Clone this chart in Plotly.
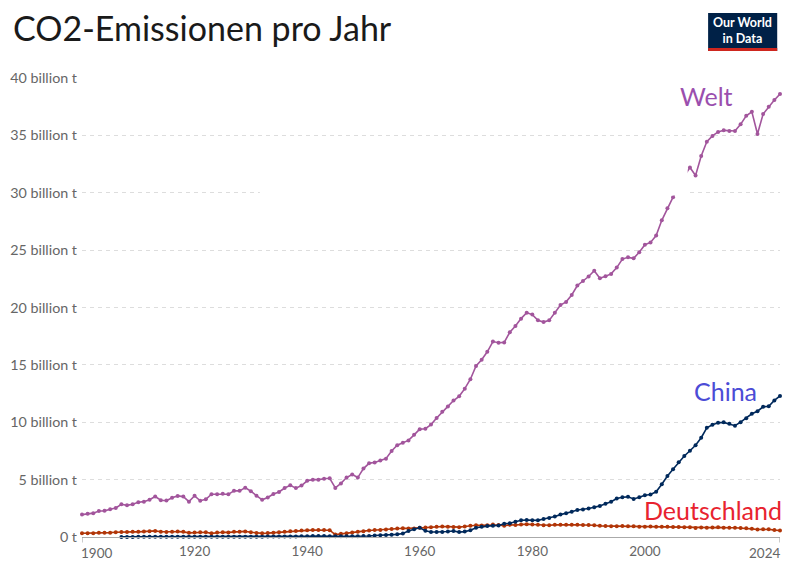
import plotly.graph_objects as go

# CO2 emissions per year, billion tonnes
years = list(range(1900, 2025))

welt = [
    1.95, 2.02, 2.08, 2.27, 2.28, 2.42, 2.53, 2.85, 2.76, 2.86,
    3.03, 3.08, 3.25, 3.53, 3.20, 3.17, 3.42, 3.58, 3.52, 3.08,
    3.59, 3.16, 3.28, 3.73, 3.72, 3.76, 3.72, 4.03, 4.02, 4.30,
    3.99, 3.60, 3.24, 3.44, 3.75, 3.92, 4.27, 4.50, 4.26, 4.48,
    4.90, 5.00, 5.00, 5.07, 5.12, 4.28, 4.67, 5.18, 5.45, 5.18,
    5.96, 6.42, 6.50, 6.67, 6.83, 7.50, 8.00, 8.22, 8.42, 8.90,
    9.40, 9.44, 9.80, 10.37, 10.92, 11.38, 11.89, 12.26, 12.93, 13.75,
    14.90, 15.45, 16.14, 17.03, 16.93, 16.96, 17.84, 18.38, 19.03, 19.55,
    19.38, 18.88, 18.73, 18.88, 19.55, 20.21, 20.49, 21.09, 21.92, 22.30,
    22.70, 23.20, 22.55, 22.72, 22.93, 23.48, 24.22, 24.37, 24.29, 24.82,
    25.47, 25.67, 26.27, 27.60, 28.66, 29.61, 30.54, 31.46, 32.20, 31.50,
    33.20, 34.45, 34.95, 35.30, 35.44, 35.38, 35.38, 35.96, 36.70, 37.06,
    35.12, 36.86, 37.50, 38.08, 38.60,
]

china_years = list(range(1907, 2025))
china = [
    0.01, 0.01, 0.01, 0.02, 0.02, 0.02, 0.02, 0.02, 0.02, 0.02,
    0.02, 0.02, 0.02, 0.02, 0.02, 0.03, 0.03, 0.03, 0.03, 0.03,
    0.03, 0.03, 0.03, 0.03, 0.03, 0.03, 0.04, 0.04, 0.04, 0.05,
    0.05, 0.05, 0.06, 0.07, 0.08, 0.09, 0.08, 0.06, 0.06, 0.07,
    0.06, 0.06, 0.07,
    0.08, 0.09, 0.13, 0.15, 0.18, 0.20, 0.23, 0.30, 0.53, 0.68,
    0.80, 0.55, 0.44, 0.44, 0.44, 0.48, 0.52, 0.43, 0.47, 0.58,
    0.80, 0.90, 0.95, 0.99, 1.00, 1.16, 1.20, 1.33, 1.46, 1.48,
    1.46, 1.45, 1.57, 1.65, 1.79, 1.95, 2.06, 2.20, 2.36, 2.40,
    2.48, 2.59, 2.71, 2.90, 3.08, 3.36, 3.47, 3.50, 3.32, 3.46,
    3.64, 3.70, 3.94, 4.60, 5.32, 5.90, 6.52, 7.06, 7.52, 8.00,
    8.65, 9.52, 9.78, 9.96, 9.99, 9.86, 9.70, 10.01, 10.35, 10.74,
    10.96, 11.34, 11.40, 11.90, 12.29,
]

deutschland = [
    0.33, 0.33, 0.33, 0.36, 0.37, 0.38, 0.41, 0.44, 0.44, 0.45,
    0.45, 0.47, 0.50, 0.53, 0.46, 0.43, 0.46, 0.47, 0.45, 0.36,
    0.40, 0.41, 0.42, 0.32, 0.39, 0.41, 0.40, 0.45, 0.46, 0.49,
    0.42, 0.35, 0.32, 0.34, 0.38, 0.42, 0.46, 0.51, 0.53, 0.56,
    0.58, 0.60, 0.60, 0.61, 0.59, 0.21, 0.28, 0.33, 0.39, 0.45,
    0.51, 0.56, 0.60, 0.61, 0.65, 0.70, 0.74, 0.76, 0.75, 0.75,
    0.81, 0.82, 0.86, 0.90, 0.91, 0.90, 0.88, 0.86, 0.91, 0.98,
    1.02, 1.01, 1.03, 1.08, 1.04, 0.99, 1.06, 1.04, 1.08, 1.12,
    1.09, 1.06, 1.03, 1.03, 1.06, 1.07, 1.07, 1.06, 1.06, 1.04,
    1.05, 1.02, 0.97, 0.96, 0.94, 0.94, 0.96, 0.93, 0.93, 0.90,
    0.90, 0.92, 0.90, 0.90, 0.89, 0.87, 0.88, 0.86, 0.86, 0.79,
    0.83, 0.81, 0.82, 0.84, 0.80, 0.80, 0.80, 0.79, 0.76, 0.71,
    0.65, 0.68, 0.67, 0.60, 0.57,
]

y_ticks = [0, 5, 10, 15, 20, 25, 30, 35, 40]
y_ticktext = ['0 t'] + [f'{v} billion t' for v in y_ticks[1:]]
x_ticks = [1920, 1940, 1960, 1980, 2000]

FONT = 'Lato'
GREY = '#666666'

fig = go.Figure()

series = [
    ('Deutschland', years, deutschland, '#b13507'),
    ('China', china_years, china, '#00295b'),
    ('Welt', years, welt, '#a2559c'),
]
for name, xs, ys, col in series:
    fig.add_trace(go.Scatter(x = xs, y = ys, name = name, mode = 'lines+markers',
                             line = dict(color = col, width = 1.6),
                             marker = dict(color = col, size = 4),
                             cliponaxis = False))

# end-of-line labels
labels = [
    ('Welt', 2011.0, 38.4, '#9b4fae'),
    ('China', 2014.4, 12.7, '#4c4cd6'),
    ('Deutschland', 2012.1, 2.35, '#e8232f'),
]
for text, lx, ly, col in labels:
    fig.add_annotation(x = lx, y = ly, text = text, showarrow = False,
                       xanchor = 'center', yanchor = 'middle',
                       font = dict(family = FONT, size = 25, color = col))

# first/last year labels, aligned to the ends of the axis
fig.add_annotation(x = 1900, y = 0, yref = 'paper', text = '1900', showarrow = False,
                   xanchor = 'left', yanchor = 'top', yshift = -6, xshift = -3,
                   font = dict(family = FONT, size = 13.5, color = GREY))
fig.add_annotation(x = 2024, y = 0, yref = 'paper', text = '2024', showarrow = False,
                   xanchor = 'right', yanchor = 'top', yshift = -6, xshift = 2,
                   font = dict(family = FONT, size = 13.5, color = GREY))
for tx in (1900, 2024):
    fig.add_shape(type = 'line', xref = 'x', yref = 'paper', x0 = tx, x1 = tx,
                  y0 = 0, y1 = -0.012, line = dict(color = '#999999', width = 1))

# white patch that hides part of the 30 billion gridline and the Welt line
fig.add_shape(type = 'rect', xref = 'x', yref = 'y', x0 = 1931.6, x1 = 2007.6,
              y0 = 29.75, y1 = 33.6, fillcolor = 'white', line = dict(width = 0),
              layer = 'above')

# logo
fig.add_shape(type = 'rect', xref = 'paper', yref = 'paper', x0 = 0.897, x1 = 0.996,
              y0 = 1.059, y1 = 1.1416, fillcolor = '#002147', line = dict(width = 0))
fig.add_shape(type = 'rect', xref = 'paper', yref = 'paper', x0 = 0.897, x1 = 0.996,
              y0 = 1.059, y1 = 1.0655, fillcolor = '#ce261e', line = dict(width = 0))
fig.add_annotation(x = 0.9465, y = 1.104, xref = 'paper', yref = 'paper',
                   text = '<b>Our World<br>in Data</b>', showarrow = False,
                   xanchor = 'center', yanchor = 'middle', align = 'center',
                   font = dict(family = FONT, size = 12.5, color = 'white'))

# the page adds an 8px body margin, so the margins below are shifted by it
fig.update_layout(
    width = 799, height = 568,
    margin = dict(l = 74, r = 27, t = 70, b = 39),
    paper_bgcolor = 'white', plot_bgcolor = 'white',
    showlegend = False,
    font = dict(family = FONT, color = GREY),
    title = dict(text = 'CO2-Emissionen pro Jahr', x = 5 / 799, xanchor = 'left',
                 xref = 'container', y = 1 - 21 / 568, yanchor = 'middle',
                 font = dict(family = FONT, size = 34, color = '#1a1a1a')),
)
fig.update_xaxes(range = [1900, 2024], tickvals = x_ticks, showgrid = False,
                 showline = True, linecolor = '#aaaaaa', linewidth = 1,
                 ticks = '', zeroline = False, ticklabelstandoff = 2, automargin = False,
                 tickfont = dict(family = FONT, size = 13.5, color = GREY))
fig.update_yaxes(range = [0, 40], tickvals = y_ticks, ticktext = y_ticktext,
                 showgrid = True, gridcolor = '#dddddd', griddash = '4px,4px',
                 gridwidth = 1, zeroline = False, ticks = '', ticklabelstandoff = 4,
                 automargin = False,
                 tickfont = dict(family = FONT, size = 14.3, color = GREY))

fig.write_html('out.html')
